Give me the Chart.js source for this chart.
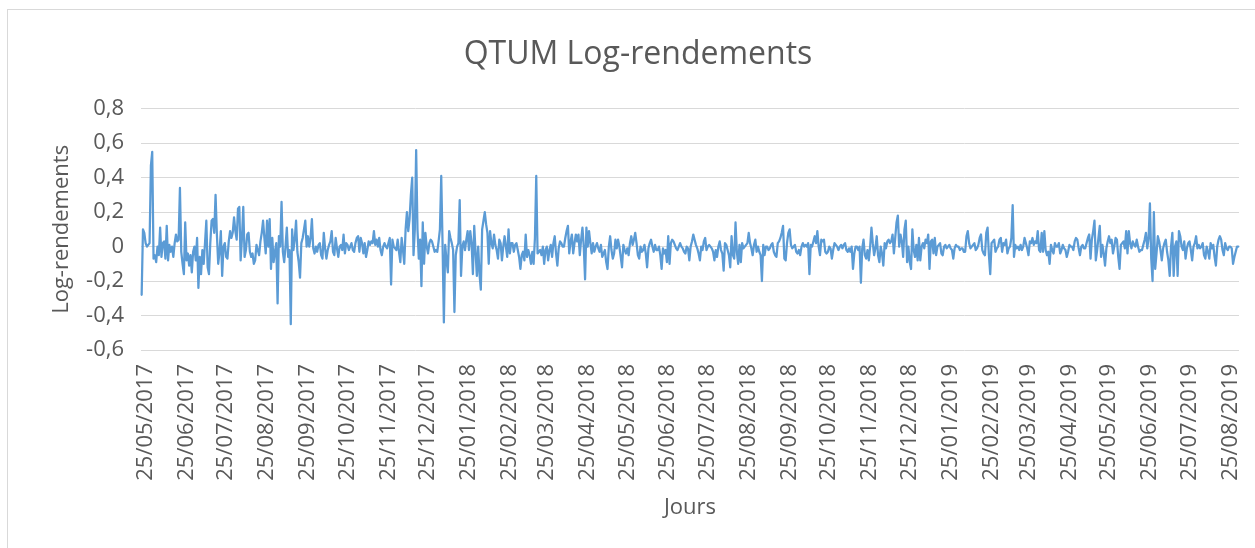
<!DOCTYPE html>
<html>
<head>
<meta charset="utf-8">
<title>QTUM Log-rendements</title>
<script src="https://cdn.jsdelivr.net/npm/chart.js@4.4.1/dist/chart.umd.min.js"></script>
<style>
  html, body { margin: 0; padding: 0; background: #fff; overflow: hidden; }
  #wrap { position: relative; width: 1255px; height: 548px; }
  #frame { position: absolute; left: 7px; top: 9px; width: 1270px; height: 560px; border: 1px solid #d9d9d9; box-sizing: border-box; pointer-events: none; }
</style>
</head>
<body>
<div id="wrap">
  <canvas id="qtumChart" width="1255" height="548"></canvas>
  <div id="frame"></div>
</div>
<script>
const chartTitle = 'QTUM Log-rendements'
const xTitle = 'Jours'
const yTitle = 'Log-rendements'
const firstDay = [2017, 4, 22]  // 22/05/2017

const tickLabels = [
  '25/05/2017', '25/06/2017', '25/07/2017', '25/08/2017', '25/09/2017', '25/10/2017', '25/11/2017', '25/12/2017',
  '25/01/2018', '25/02/2018', '25/03/2018', '25/04/2018', '25/05/2018', '25/06/2018', '25/07/2018', '25/08/2018',
  '25/09/2018', '25/10/2018', '25/11/2018', '25/12/2018', '25/01/2019', '25/02/2019', '25/03/2019', '25/04/2019',
  '25/05/2019', '25/06/2019', '25/07/2019', '25/08/2019'
]

// daily log returns
const returns2017 = [
  -0.28, 0.10, 0.08, 0.02, 0.00, 0.01, 0.02, 0.47, 0.55, -0.07,
  -0.05, -0.09, 0.00, -0.05, 0.11, -0.06, 0.02, 0.03, -0.07, 0.12,
  -0.08, 0.01, -0.03, 0.00, -0.06, 0.02, 0.07, 0.03, 0.04, 0.34,
  -0.03, -0.10, -0.16, 0.14, -0.08, -0.04, -0.11, -0.05, -0.15, -0.03,
  0.00, -0.08, 0.05, -0.24, -0.06, -0.16, -0.02, -0.10, 0.02, 0.15,
  -0.12, -0.16, 0.02, 0.15, 0.16, 0.08, 0.30, 0.07, -0.10, -0.03,
  0.09, -0.17, 0.00, 0.02, -0.06, -0.07, 0.03, 0.09, 0.05, 0.08,
  0.17, 0.09, 0.04, 0.22, 0.23, -0.08, 0.05, 0.23, -0.06, -0.02,
  0.07, 0.08, -0.03, -0.06, -0.04, -0.10, -0.08, 0.01, -0.02, -0.05,
  0.03, 0.08, 0.15, 0.05, -0.04, 0.15, 0.00, 0.16, -0.13, 0.05,
  -0.09, -0.03, 0.02, -0.33, 0.06, 0.00, 0.26, -0.03, -0.09, 0.00,
  0.11, -0.06, -0.02, -0.45, 0.10, -0.02, 0.04, 0.15, -0.03, -0.09,
  -0.18, 0.02, 0.05, 0.10, 0.15, 0.00, 0.06, 0.00, 0.05, 0.16,
  -0.01, -0.04, 0.00, -0.03, 0.01, 0.02, -0.05, -0.07, 0.08, -0.01,
  -0.07, -0.02, 0.01, 0.03, 0.09, -0.03, -0.05, 0.05, -0.01, -0.06,
  0.00, 0.01, -0.02, 0.07, -0.04, 0.02, 0.01, -0.02, 0.00, 0.02,
  -0.02, -0.03, 0.02, 0.05, 0.06, -0.03, 0.05, 0.02, -0.04, 0.02,
  -0.06, -0.02, 0.03, 0.01, 0.03, 0.02, 0.09, 0.01, 0.04, 0.00,
  0.05, -0.02, -0.05, 0.00, 0.02, 0.00, -0.01, 0.02, 0.05, -0.22,
  0.04, 0.00, -0.01, -0.02, 0.04, -0.03, -0.09, 0.05, -0.02, -0.10,
  0.10, 0.20, 0.09, 0.16, 0.30, 0.40, -0.05, 0.10, 0.56, 0.10,
  -0.07, 0.04, -0.23, 0.14, -0.10, 0.08, 0.00, -0.04, 0.02, 0.04,
  0.03, 0.00, -0.03, -0.02
]
const returns2018 = [
  -0.03, 0.03, 0.10, 0.41, 0.02, -0.44, 0.01, -0.08, -0.15, 0.09,
  0.05, 0.02, -0.02, -0.38, -0.05, 0.00, 0.02, 0.27, -0.17, 0.00,
  0.03, -0.02, 0.04, 0.09, -0.02, 0.09, 0.02, -0.16, 0.12, -0.03,
  -0.17, 0.00, -0.16, -0.25, 0.10, 0.15, 0.20, 0.13, 0.08, -0.10,
  0.09, 0.02, -0.01, 0.07, 0.01, -0.02, -0.07, 0.04, 0.02, -0.08,
  0.00, 0.06, 0.00, -0.06, 0.10, -0.04, 0.02, 0.02, -0.03, 0.01,
  0.02, -0.02, -0.06, -0.13, -0.05, -0.03, -0.08, 0.07, -0.06, -0.02,
  -0.05, -0.10, -0.03, -0.10, 0.05, 0.41, -0.04, -0.03, -0.02, -0.05,
  0.00, -0.10, -0.02, 0.00, -0.08, -0.02, 0.01, -0.06, 0.02, 0.06,
  -0.04, -0.11, -0.01, 0.03, 0.02, 0.00, 0.00, 0.05, 0.09, 0.12,
  -0.04, 0.03, 0.07, -0.04, 0.02, 0.07, 0.03, 0.07, -0.05, 0.04,
  0.11, 0.00, -0.19, 0.11, 0.00, 0.09, 0.02, -0.04, 0.02, -0.03,
  0.00, 0.02, -0.01, -0.03, 0.01, -0.06, -0.04, -0.02, -0.09, -0.13,
  0.00, 0.06, -0.02, -0.07, -0.04, 0.04, -0.01, 0.04, 0.00, -0.06,
  -0.12, 0.01, -0.02, -0.04, -0.01, -0.05, 0.02, 0.06, 0.01, 0.04,
  0.08, 0.02, -0.05, -0.07, 0.00, -0.03, -0.02, 0.01, -0.04, -0.12,
  -0.01, 0.02, 0.04, 0.00, -0.03, 0.01, -0.02, -0.02, 0.00, -0.05,
  -0.13, -0.01, -0.04, -0.02, -0.09, 0.06, -0.10, 0.02, 0.04, 0.03,
  0.01, -0.01, -0.02, 0.00, 0.02, 0.00, -0.01, -0.03, -0.04, 0.00,
  -0.01, -0.08, 0.00, 0.03, 0.07, 0.04, 0.01, -0.01, -0.04, -0.08,
  0.00, -0.02, 0.03, 0.05, -0.02, 0.00, 0.01, 0.00, -0.01, -0.03,
  -0.08, -0.02, -0.06, 0.00, 0.03, -0.02, -0.04, -0.14, 0.02, 0.01,
  -0.02, -0.05, -0.12, 0.06, -0.05, -0.07, 0.14, -0.03, -0.10, 0.01,
  -0.09, 0.02, -0.01, 0.00, 0.01, 0.02, 0.08, 0.02, -0.01, -0.05,
  0.01, 0.04, -0.03, 0.00, -0.03, -0.05, -0.20, 0.01, -0.05, 0.00,
  0.00, -0.02, -0.01, 0.01, 0.02, -0.03, -0.05, -0.06, 0.02, 0.03,
  0.05, 0.08, 0.12, -0.07, -0.08, 0.02, 0.08, 0.10, 0.01, -0.01,
  0.00, 0.01, -0.03, -0.04, -0.02, -0.05, 0.00, 0.02, 0.00, 0.01,
  0.00, 0.02, -0.16, 0.01, 0.00, 0.03, 0.06, 0.02, 0.09, 0.00,
  -0.05, 0.04, 0.03, 0.04, -0.03, -0.04, -0.03, 0.00, -0.01, -0.07,
  -0.02, 0.02, 0.01, 0.00, -0.02, 0.00, 0.01, -0.01, 0.01, 0.02,
  -0.02, -0.03, -0.01, -0.03, 0.00, -0.13, -0.04, 0.00, 0.00, -0.02,
  0.00, -0.21, -0.01, 0.04, -0.05, -0.07, -0.02, -0.08, 0.00, 0.11,
  0.02, -0.05, -0.01, 0.06, -0.05, -0.09, 0.00, -0.04, -0.11, 0.02,
  -0.01, 0.03, 0.04, 0.02, 0.03, 0.07, -0.04, 0.05, 0.14, 0.18,
  0.00, 0.07, 0.03, -0.06, 0.10, 0.15, -0.09, 0.00, -0.09, -0.13,
  0.10, -0.02, -0.06, 0.01, -0.08
]
const returns2019 = [
  0.05, -0.08, 0.00, 0.02, -0.01, 0.04, 0.02, 0.07, -0.13, 0.03,
  0.04, -0.04, 0.05, -0.05, 0.00, 0.01, 0.02, -0.04, -0.05, 0.00,
  0.01, -0.01, 0.00, 0.01, -0.01, -0.02, -0.07, -0.01, 0.01, 0.00,
  0.00, -0.02, -0.01, -0.01, -0.03, -0.03, 0.06, 0.09, 0.02, -0.01,
  0.00, 0.01, 0.02, -0.02, -0.01, 0.01, 0.05, 0.07, -0.02, -0.04,
  -0.05, 0.08, 0.11, -0.05, -0.16, 0.02, 0.03, 0.04, -0.03, -0.01,
  0.00, 0.04, 0.05, -0.03, 0.02, 0.01, 0.04, -0.04, -0.01, 0.00,
  0.05, 0.24, -0.06, 0.01, -0.01, 0.00, -0.02, 0.01, -0.02, 0.00,
  0.05, 0.02, -0.01, -0.05, 0.03, 0.02, 0.05, 0.01, 0.03, 0.02,
  0.09, -0.02, -0.03, 0.08, -0.03, 0.09, -0.02, -0.05, -0.03, -0.10,
  0.01, -0.02, -0.04, 0.02, 0.00, 0.00, 0.02, -0.04, -0.02, 0.01,
  -0.01, -0.02, -0.06, -0.03, 0.01, 0.00, 0.00, -0.02, 0.03, 0.05,
  0.04, -0.01, -0.05, 0.00, 0.01, -0.01, -0.01, 0.02, 0.05, 0.07,
  -0.07, 0.04, 0.09, 0.15, -0.08, -0.02, 0.05, 0.12, -0.06, 0.01,
  -0.04, -0.11, -0.01, 0.03, 0.06, 0.02, 0.04, -0.04, 0.00, 0.05,
  0.04, -0.06, -0.13, 0.01, 0.02, 0.03, -0.01, 0.09, -0.04, 0.09,
  0.02, -0.01, 0.03, 0.01, 0.00, 0.04, 0.00, -0.03, -0.02, -0.02,
  0.01, 0.04, 0.08, -0.01, 0.05, 0.25, -0.07, -0.20, 0.20, -0.13,
  -0.04, 0.06, 0.03, -0.02, -0.08, -0.01, 0.02, 0.04, -0.03, -0.08,
  -0.17, 0.00, 0.08, -0.17, 0.00, 0.03, -0.17, 0.09, 0.06, 0.00,
  -0.02, 0.03, -0.07, -0.01, 0.02, 0.03, -0.02, -0.08, 0.00, 0.02,
  0.06, -0.01, 0.01, -0.01, 0.00, 0.02, -0.05, -0.07, 0.00, -0.03,
  -0.07, 0.02, -0.01, 0.01, -0.06, -0.11, 0.00, 0.04, 0.06, 0.04,
  -0.02, -0.05, 0.02, -0.01, -0.02, 0.00, 0.00, -0.01, -0.10, -0.06,
  -0.03, 0.00, 0.00
]

const logReturns = [...returns2017, ...returns2018, ...returns2019]

// one category per day, dd/mm/yyyy
const pad = n => String(n).padStart(2, '0')
const days = logReturns.map((v, i) => {
    const d = new Date(Date.UTC(firstDay[0], firstDay[1], firstDay[2] + i))
    return pad(d.getUTCDate()) + '/' + pad(d.getUTCMonth() + 1) + '/' + d.getUTCFullYear()
})

const textColor = '#595959'
const gridColor = '#d9d9d9'
Chart.defaults.font.family = "'Open Sans', sans-serif"
Chart.defaults.color = textColor

const fmtTick = v => {
    const r = Math.round(v * 10) / 10
    return r === 0 ? '0' : r.toFixed(1).replace('.', ',')
}

const excelTitle = {
    id: 'excelTitle',
    afterDraw(chart) {
        const c = chart.ctx
        c.save()
        c.font = "32px 'Open Sans'"
        c.fillStyle = textColor
        c.textAlign = 'center'
        c.textBaseline = 'middle'
        c.fillText(chartTitle, 638, 55)
        c.restore()
    }
}

new Chart(document.getElementById('qtumChart').getContext('2d'), {
    type: 'line',
    data: {
        labels: days,
        datasets: [{
            label: chartTitle,
            data: logReturns,
            borderColor: '#5b9bd5',
            borderWidth: 2.25,
            borderJoinStyle: 'round',
            borderCapStyle: 'round',
            pointRadius: 0,
            tension: 0,
            fill: false,
        }],
    },
    options: {
        responsive: false,
        animation: false,
        devicePixelRatio: 1,
        layout: {
            padding: {top: 108.7, right: 16, bottom: 0, left: 0},
        },
        plugins: {
            legend: {display: false},
            tooltip: {enabled: false},
            title: {display: false},
        },
        scales: {
            x: {
                type: 'category',
                offset: true,
                grid: {display: false, drawTicks: false},
                border: {display: false},
                afterBuildTicks: s => {
                    s.ticks = s.ticks.filter(t => tickLabels.includes(days[t.value]))
                },
                afterFit: s => {
                    s.height = 198
                    s.paddingLeft = 0
                    s.paddingRight = 0
                },
                ticks: {
                    autoSkip: false,
                    minRotation: 90,
                    maxRotation: 90,
                    padding: 14,
                    color: textColor,
                    font: {size: 22},
                },
                title: {
                    display: true,
                    text: xTitle,
                    color: textColor,
                    font: {size: 22},
                    padding: {top: 0, bottom: 27},
                },
            },
            y: {
                min: -0.6,
                max: 0.8,
                afterFit: s => { s.width = 141 },
                grid: {color: gridColor, lineWidth: 1, drawTicks: false},
                border: {display: false},
                ticks: {
                    stepSize: 0.2,
                    padding: 17,
                    color: textColor,
                    font: {size: 22},
                    callback: fmtTick,
                },
                title: {
                    display: true,
                    text: yTitle,
                    color: textColor,
                    font: {size: 22},
                    padding: {top: 49, bottom: 0},
                },
            },
        },
    },
    plugins: [excelTitle],
})
</script>
</body>
</html>
